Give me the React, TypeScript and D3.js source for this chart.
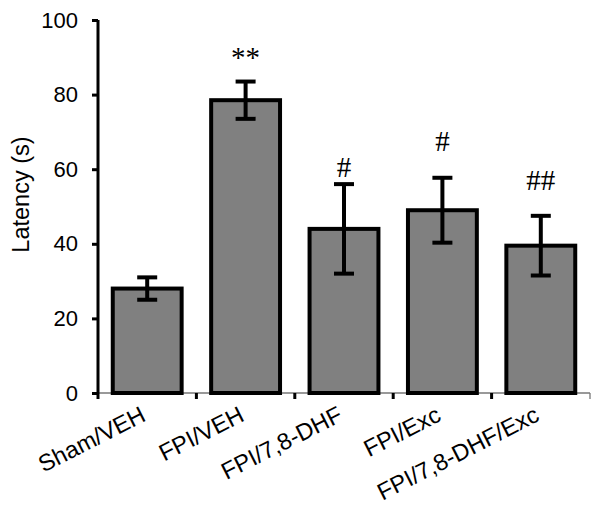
import React, { useEffect, useRef } from 'react';
import * as d3 from 'd3';

const groups = ['Sham/VEH', 'FPI/VEH', 'FPI/7,8-DHF', 'FPI/Exc', 'FPI/7,8-DHF/Exc'];
const means = [28, 78.5, 44, 49, 39.5];
const errors = [3, 5, 12, 8.7, 8];
const marks = ['', '**', '#', '#', '##'];
// baseline height of each significance mark, in seconds
const markLevels = [0, 87.5, 58, 65, 54.5];
const yTicks = [0, 20, 40, 60, 80, 100];

const App = () => {
  const svgRef = useRef<SVGSVGElement>(null);

  useEffect(() => {
    const width = 602;
    const height = 522;
    const margin = { top: 20, left: 98, right: 12, bottom: 129 };
    const innerW = width - margin.left - margin.right;
    const innerH = height - margin.top - margin.bottom;

    const svg = d3.select(svgRef.current);
    svg.selectAll('*').remove();
    svg.attr('width', width).attr('height', height);

    const chart = svg.append('g').attr('transform', `translate(${margin.left},${margin.top})`);

    const x = d3.scaleBand().domain(groups).range([0, innerW]).paddingInner(0.3).paddingOuter(0.15);
    const y = d3.scaleLinear().domain([0, 100]).range([innerH, 0]);

    const font = 'Liberation Sans, Arial, sans-serif';

    // x baseline (thin grey) and boundary ticks
    chart.append('line')
      .attr('x1', 0).attr('x2', innerW)
      .attr('y1', innerH).attr('y2', innerH)
      .attr('stroke', '#777').attr('stroke-width', 1.3);

    const edges = d3.range(groups.length + 1).map(i => i * (innerW / groups.length));
    chart.selectAll('line.xtick')
      .data(edges)
      .enter()
      .append('line')
      .attr('class', 'xtick')
      .attr('x1', d => d).attr('x2', d => d)
      .attr('y1', innerH).attr('y2', innerH + 6)
      .attr('stroke', d => (d === innerW ? '#777' : '#000'))
      .attr('stroke-width', d => (d === innerW ? 1.3 : 3));

    // bars
    chart.selectAll('rect.bar')
      .data(groups)
      .enter()
      .append('rect')
      .attr('class', 'bar')
      .attr('x', d => x(d)!)
      .attr('width', x.bandwidth())
      .attr('y', (d, i) => y(means[i]))
      .attr('height', (d, i) => innerH - y(means[i]))
      .attr('fill', '#808080')
      .attr('stroke', '#000')
      .attr('stroke-width', 4);

    // error bars
    const cap = 10;
    groups.forEach((g, i) => {
      const cx = x(g)! + x.bandwidth() / 2;
      const hi = y(means[i] + errors[i]);
      const lo = y(means[i] - errors[i]);
      const eg = chart.append('g').attr('stroke', '#000').attr('stroke-width', 4);
      eg.append('line').attr('x1', cx).attr('x2', cx).attr('y1', hi).attr('y2', lo);
      eg.append('line').attr('x1', cx - cap).attr('x2', cx + cap).attr('y1', hi).attr('y2', hi);
      eg.append('line').attr('x1', cx - cap).attr('x2', cx + cap).attr('y1', lo).attr('y2', lo);

      if (marks[i]) {
        chart.append('text')
          .attr('x', cx)
          .attr('y', y(markLevels[i]))
          .attr('text-anchor', 'middle')
          .attr('font-family', 'Liberation Serif, Times New Roman, serif')
          .attr('font-size', 29)
          .attr('fill', '#000')
          .text(marks[i]);
      }
    });

    // y axis
    const yAxis = chart.append('g')
      .call(d3.axisLeft(y).tickValues(yTicks).tickSize(6).tickPadding(14));
    yAxis.select('path.domain').attr('stroke', '#000').attr('stroke-width', 3).attr('d', `M0,${innerH}V0`);
    yAxis.selectAll('line').attr('stroke', '#000').attr('stroke-width', 3);
    yAxis.selectAll('text')
      .attr('font-family', font)
      .attr('font-size', 22)
      .attr('fill', '#000');

    chart.append('text')
      .attr('transform', `translate(${-69},${innerH / 2 - 12}) rotate(-90)`)
      .attr('text-anchor', 'middle')
      .attr('font-family', font)
      .attr('font-size', 23.5)
      .attr('fill', '#000')
      .text('Latency (s)');

    // category labels
    chart.selectAll('text.cat')
      .data(groups)
      .enter()
      .append('text')
      .attr('class', 'cat')
      .attr('transform', d => `translate(${x(d)! + x.bandwidth() / 2},${innerH + 27}) rotate(-27)`)
      .attr('text-anchor', 'end')
      .attr('font-family', font)
      .attr('font-size', 23.5)
      .attr('fill', '#000')
      .text(d => d);
  }, []);

  return <svg ref={svgRef} style={{ position: 'absolute', left: 0, top: 0 }}></svg>;
};

export default App;
